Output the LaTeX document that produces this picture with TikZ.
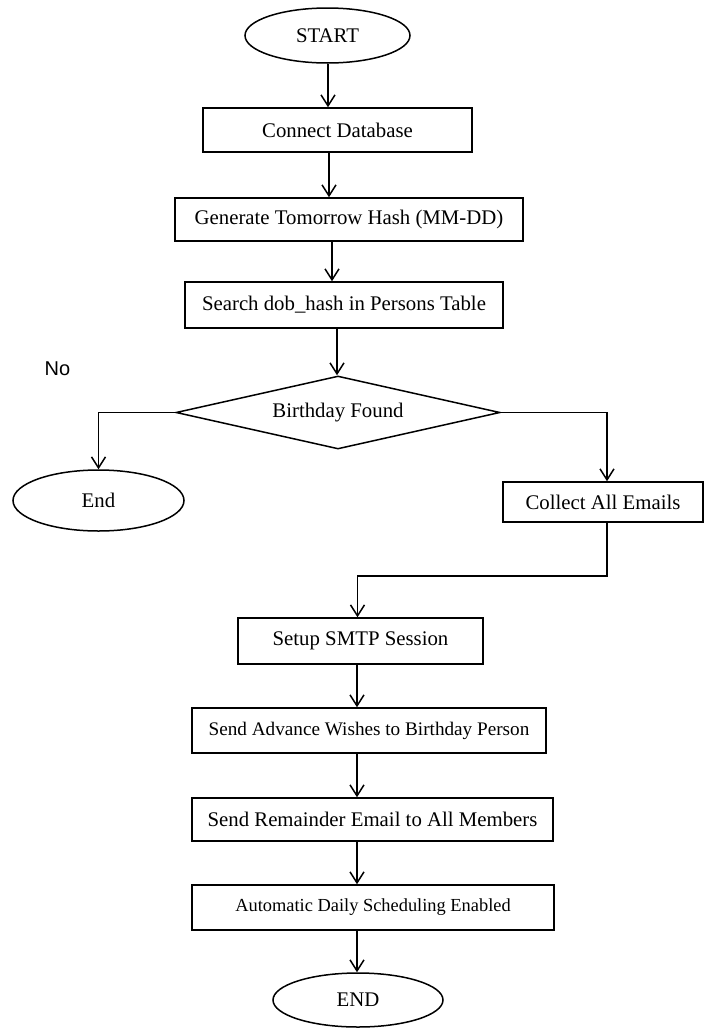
\documentclass[tikz,border=0pt]{standalone}
\usepackage{fontspec}
\setmainfont{Liberation Serif}
\newfontfamily\labelsans{Liberation Sans}
\usetikzlibrary{shapes.geometric}
\usetikzlibrary{arrows.meta}

\begin{document}
\begin{tikzpicture}[x=1pt, y=-1pt, line width=1.5pt,
    font=\fontsize{20.8}{25}\selectfont,
    box/.style={draw, rectangle, inner sep=0pt},
    oval/.style={draw, ellipse, inner sep=0pt},
    decision/.style={draw, diamond, inner sep=0pt, aspect=4.44},
    arr/.style={-{Straight Barb[length=11pt, width=14pt]}}]
    \useasboundingbox (0,0) rectangle (704,1028);
    % main column
    \node[oval, minimum width=165pt, minimum height=55pt] (start) at (327.5,35.5) {START};
    \node[box, minimum width=269pt, minimum height=44pt] (connect) at (337.5,130) {Connect Database};
    \node[box, minimum width=348pt, minimum height=43pt] (generate) at (349,219.5) {Generate Tomorrow Hash (MM-DD)};
    \node[box, minimum width=318pt, minimum height=46pt] (search) at (344,305) {Search dob\_hash in Persons Table};
    \node[decision, minimum width=324pt, minimum height=73pt] (found) at (338,412.5) {Birthday Found};
    \node[font=\labelsans\fontsize{20}{24}\selectfont] (nolabel) at (57.5,369) {No};
    % branches
    \node[oval, minimum width=171pt, minimum height=61pt] (stop) at (98.5,500.5) {End};
    \node[box, minimum width=200pt, minimum height=40pt] (collect) at (603,502) {Collect All Emails};
    % mail steps
    \node[box, minimum width=245pt, minimum height=46pt] (setup) at (360.5,641) {Setup SMTP Session};
    \node[box, minimum width=354pt, minimum height=45pt, font=\fontsize{19.2}{23}\selectfont] (advance) at (369,730.5) {Send Advance Wishes to Birthday Person};
    \node[box, minimum width=361pt, minimum height=43pt] (remainder) at (372.5,819.5) {Send Remainder Email to All Members};
    \node[box, minimum width=362pt, minimum height=45pt, font=\fontsize{18.4}{22}\selectfont] (auto) at (373,907.5) {Automatic Daily Scheduling Enabled};
    \node[oval, minimum width=170pt, minimum height=54pt] (finish) at (358,1000) {END};

    \foreach \a/\b/\x in {start/connect/328, connect/generate/329, generate/search/332,
        search/found/337, setup/advance/357, advance/remainder/357, remainder/auto/357, auto/finish/357}
        \draw[arr] (\a.south -| \x,0) -- (\b.north -| \x,0);
    \draw[arr] (found.west) -| (stop.north);
    \draw[arr] (found.east) -| ([xshift=4pt]collect.north);
    \draw[arr] ([xshift=4pt]collect.south) -- ++(0,53) -| ([xshift=-3pt]setup.north);
\end{tikzpicture}
\end{document}
